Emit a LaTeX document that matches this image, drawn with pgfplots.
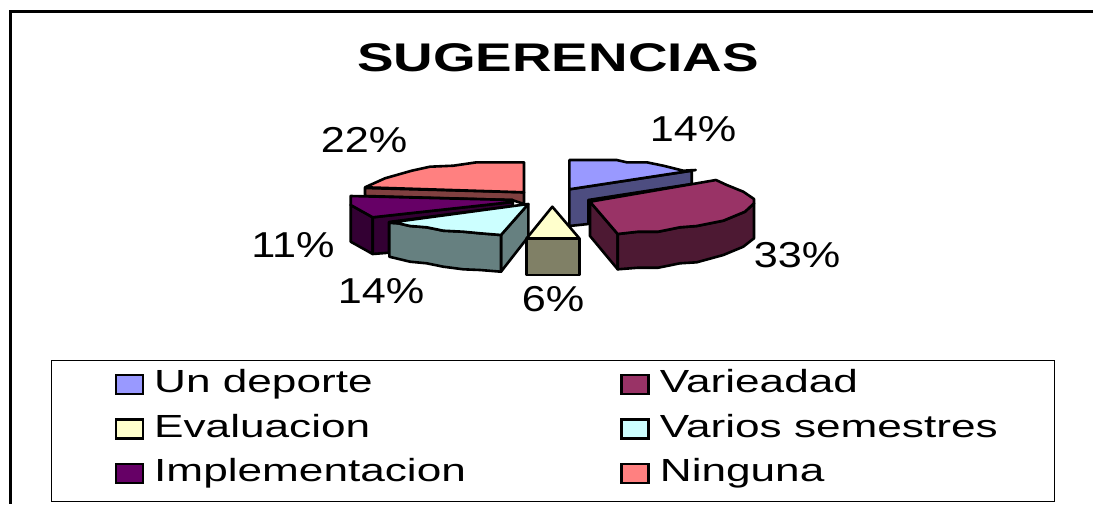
\documentclass[border=0pt]{standalone}
\usepackage{pgfplots}
\pgfplotsset{compat=1.18}
\usepackage{graphicx}
\usepackage{fontspec}
\setmainfont{Liberation Sans}
\definecolor{aT}{HTML}{9999FF}\definecolor{aS}{HTML}{4D4D80}
\definecolor{bT}{HTML}{993366}\definecolor{bS}{HTML}{4D1933}
\definecolor{cT}{HTML}{FFFFCC}\definecolor{cS}{HTML}{808066}
\definecolor{dT}{HTML}{CCFFFF}\definecolor{dS}{HTML}{668080}
\definecolor{eT}{HTML}{660066}\definecolor{eS}{HTML}{330033}
\definecolor{fT}{HTML}{FF8080}\definecolor{fS}{HTML}{804040}
\newcommand{\LL}[2]{\makebox[#1][l]{\hspace*{10pt}\fontsize{32}{36}\selectfont\rule[-14pt]{0pt}{40pt}\scalebox{1.38}[1]{#2}}}
\newcommand{\PP}[1]{\fontsize{36}{40}\selectfont\scalebox{1.2}[1]{#1\%}}
\begin{document}
\begin{tikzpicture}
\useasboundingbox (0,0) rectangle (1093pt,504pt);
\begin{axis}[
  at={(0,0)}, anchor=south west,
  scale only axis, width=1093pt, height=504pt,
  xmin=0, xmax=1093, ymin=0, ymax=504, y dir=reverse,
  axis lines=none, clip=true,
  legend cell align=left,
  legend columns=2,
  legend image code/.code={\path (0pt,0pt) (91pt,0pt);\draw[#1,line width=2.4pt] (64pt,-7.5pt) rectangle (91pt,11.5pt);},
  legend style={at={(axis cs:51,360)}, anchor=north west, draw=black, line width=1pt,
    inner xsep=0pt, inner ysep=6pt, fill=white, rounded corners=0pt,
    nodes={inner sep=0pt, anchor=west, text depth=14pt},
    /tikz/row sep=4.5pt,
    /tikz/column sep=0pt},
  poly/.style={line width=2.6pt, line join=round, draw=black, forget plot},
]
\addlegendimage{fill=aT, draw=black}\addlegendentry{\LL{413pt}{Un deporte}}
\addlegendimage{fill=bT, draw=black}\addlegendentry{\LL{405pt}{Varieadad}}
\addlegendimage{fill=cT, draw=black}\addlegendentry{\LL{413pt}{Evaluacion}}
\addlegendimage{fill=dT, draw=black}\addlegendentry{\LL{405pt}{Varios semestres}}
\addlegendimage{fill=eT, draw=black}\addlegendentry{\LL{413pt}{Implementacion}}
\addlegendimage{fill=fT, draw=black}\addlegendentry{\LL{405pt}{Ninguna}}
% outer frame
\addplot[line width=3pt, draw=black, forget plot] coordinates {(1093,11) (10,11) (10,504)};
% Un deporte
\addplot[poly, fill=aS] coordinates {(569.3,189.3) (691.7,170.7) (691.7,184) (588.3,200) (588.3,224) (569.3,226)} -- cycle;
\addplot[poly, fill=aT] coordinates {(569.3,160) (616.7,160) (626.7,162.3) (646.7,162.3) (663.3,165.7) (683.3,170.7) (695.7,170) (569.3,189.3)} -- cycle;
% Varieadad
\addplot[poly, fill=bS] coordinates {(590,201.7) (617.7,234) (617.7,269.3) (590,236)} -- cycle;
\addplot[poly, fill=bS] coordinates {(617.7,234) (638.3,231.7) (658.3,231.7) (680,227.3) (696.7,226) (723.3,220.7) (745,211.7) (754,203.3) (754,238.3) (743.3,246.7) (723.3,255) (696.7,262.3) (680,263.3) (658.3,267.7) (638.3,267.7) (617.7,269.3)} -- cycle;
\addplot[poly, fill=bT] coordinates {(590,201.7) (716,180) (726.7,185) (743.3,191.7) (754,199) (754,203.3) (745,211.7) (723.3,220.7) (696.7,226) (680,227.3) (658.3,231.7) (638.3,231.7) (617.7,234)} -- cycle;
% Ninguna
\addplot[poly, fill=fS] coordinates {(365,188) (524,192.3) (524,204) (512,200) (365,196)} -- cycle;
\addplot[poly, fill=fT] coordinates {(524,162.3) (476.7,162.3) (453.3,165.7) (430,166.7) (411.7,170.7) (385,178.3) (365,187.3) (524,192.3)} -- cycle;
% Implementacion
\addplot[poly, fill=eS] coordinates {(350.7,205) (372.7,217.3) (372.7,254) (350.7,241.7)} -- cycle;
\addplot[poly, fill=eS] coordinates {(372.7,217.3) (512.7,202) (512.7,206) (389,222) (389,252.7) (372.7,254)} -- cycle;
\addplot[poly, fill=eT] coordinates {(350.7,196) (512.7,200) (512.7,202) (372.7,217.3) (350.7,205)} -- cycle;
% Varios semestres
\addplot[poly, fill=dS] coordinates {(501,235) (528.3,204) (528.3,236.7) (501,271.7)} -- cycle;
\addplot[poly, fill=dS] coordinates {(389.3,222.7) (398.3,223.3) (410,226) (426.7,227.3) (443.3,230.7) (463.3,231.7) (480,233.3) (501,235) (501,271.7) (480,270) (463.3,269.3) (443.3,266.7) (426.7,263.3) (410,261.7) (389.3,256.7)} -- cycle;
\addplot[poly, fill=dT] coordinates {(528.3,204) (501,235) (480,233.3) (463.3,231.7) (443.3,230.7) (426.7,227.3) (410,226) (398.3,223.3) (389.3,222.7)} -- cycle;
% Evaluacion
\addplot[poly, fill=cS] coordinates {(526.7,238.3) (579.3,238.3) (579.3,275) (526.7,275)} -- cycle;
\addplot[poly, fill=cT] coordinates {(552.3,206.7) (579.3,238.3) (526.7,238.3)} -- cycle;
% text
\node at (axis cs:558,58) {\fontsize{40}{44}\selectfont\scalebox{1.37}[1]{\textbf{SUGERENCIAS}}};
\node at (axis cs:693,129) {\PP{14}};
\node at (axis cs:797,255) {\PP{33}};
\node at (axis cs:553,299) {\PP{6}};
\node at (axis cs:381,291) {\PP{14}};
\node at (axis cs:293,245) {\PP{11}};
\node at (axis cs:364,140) {\PP{22}};
\end{axis}
\end{tikzpicture}
\end{document}
